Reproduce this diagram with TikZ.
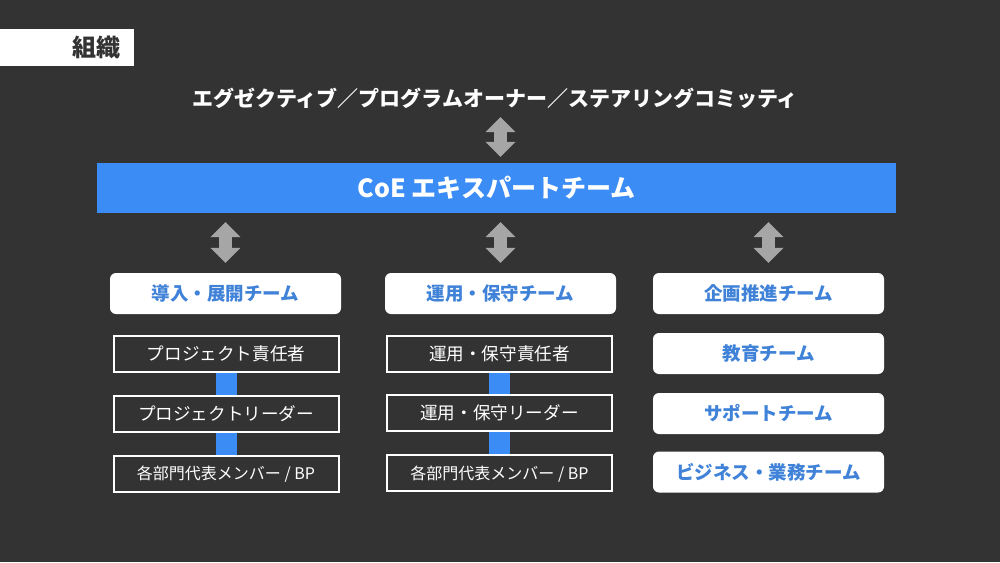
\documentclass[tikz,border=0pt]{standalone}
\usepackage{fontspec}
\setmainfont{Noto Sans CJK JP}
\usetikzlibrary{arrows.meta}
\definecolor{bgc}{HTML}{333333}
\definecolor{bandblue}{HTML}{3C8CF5}
\definecolor{txtblue}{HTML}{3F82D8}
\definecolor{arrgray}{HTML}{A6A6A6}
\tikzset{
  x=1pt, y=-1pt,
  txt/.style={inner sep=0pt, text depth=0pt},
  team/.style={txt, text height=14.06pt, fill=white, rounded corners=6pt, minimum width=231pt, minimum height=41pt,
    text=txtblue, font=\bfseries\fontsize{18.5}{20}\selectfont},
  role/.style={txt, text height=13.4pt, draw=white, line width=2pt, fill=bgc, minimum width=225pt, minimum height=36pt,
    text=white, font=\fontsize{17.6}{20}\selectfont},
  rolesmall/.style={role, text height=12.2pt, font=\fontsize{16}{18}\selectfont},
  dbl/.style={arrgray, line width=13pt,
    {Triangle[width=30pt,length=15pt,line width=0pt]}-{Triangle[width=30pt,length=15pt,line width=0pt]}},
  bar/.style={bandblue, line width=21pt},
}
\begin{document}
\begin{tikzpicture}
\fill[bgc] (0,0) rectangle (1000,562);
\useasboundingbox (0,0) rectangle (1000,562);
% title
\fill[white] (0,29) rectangle (134,66);
\node[txt, text height=18.2pt, anchor=east, text=bgc, font=\bfseries\fontsize{24}{26}\selectfont] (title) at (121,47.5) {組織};
% exec
\node[txt, text height=16pt, text=white, font=\bfseries\fontsize{21}{24}\selectfont, minimum height=24pt] (exec) at (495,98)
  {エグゼクティブ／プログラムオーナー／ステアリングコミッティ};
% band
\node[txt, text height=19pt, fill=bandblue, minimum width=799pt, minimum height=50pt, text=white,
  font=\bfseries\fontsize{25}{28}\selectfont] (band) at (496.5,188) {CoE エキスパートチーム};
% team boxes
\node[team] (t1) at (225.5,293.5) {導入・展開チーム};
\node[team] (t2) at (500.5,293.5) {運用・保守チーム};
\node[team] (t3) at (768.5,293.5) {企画推進チーム};
% arrows
\draw[dbl, shorten <=7pt, shorten >=6pt] (exec.south -| t2.north) -- (band.north -| t2.north);
\draw[dbl, shorten <=9pt, shorten >=10pt] (band.south -| t1.north) -- (t1.north);
\draw[dbl, shorten <=9pt, shorten >=10pt] (band.south -| t2.north) -- (t2.north);
\draw[dbl, shorten <=9pt, shorten >=10pt] (band.south -| t3.north) -- (t3.north);
% column 1
\node[role] (a1) at (226,353.5) {プロジェクト責任者};
\node[role] (a2) at (226,413.5) {プロジェクトリーダー};
\node[rolesmall] (a3) at (226,473.5) {各部門代表メンバー / BP};
% column 2
\node[role] (b1) at (499.5,354) {運用・保守責任者};
\node[role] (b2) at (499.5,413) {運用・保守リーダー};
\node[rolesmall] (b3) at (499.5,473) {各部門代表メンバー / BP};
% column 3
\node[team] (c1) at (768.5,353.5) {教育チーム};
\node[team] (c2) at (768.5,413.5) {サポートチーム};
\node[team] (c3) at (768.5,472) {ビジネス・業務チーム};
% blue bars
\draw[bar] (a1.south) -- (a2.north);
\draw[bar] (a2.south) -- (a3.north);
\draw[bar] (b1.south) -- (b2.north);
\draw[bar] (b2.south) -- (b3.north);
\end{tikzpicture}
\end{document}
